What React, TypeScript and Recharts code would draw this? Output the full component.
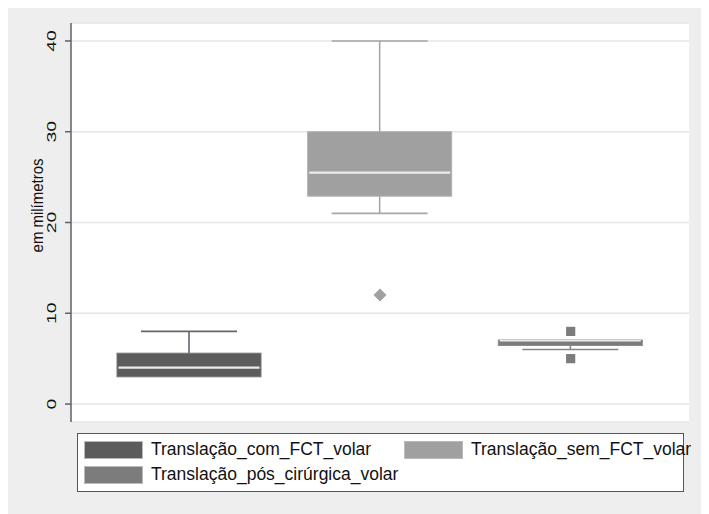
import React from 'react';
import { ComposedChart, Bar, Scatter, XAxis, YAxis, CartesianGrid } from 'recharts';

const categories = ['Translação_com_FCT_volar', 'Translação_sem_FCT_volar', 'Translação_pós_cirúrgica_volar'];
const minValues = [3, 21, 6];
const q1Values = [3, 22.9, 6.45];
const medianValues = [4, 25.5, 6.98];
const q3Values = [5.6, 30, 7.05];
const maxValues = [8, 40, 7.05];
const outlierA: (number | null)[] = [null, 12, 8];
const outlierB: (number | null)[] = [null, null, 5];
const yTicks = [0, 10, 20, 30, 40];
const yLabel = 'em milímetros';

const boxFill = ['#5c5c5c', '#a0a0a0', '#7c7c7c'];
const boxStroke = ['#74747c', '#b0b0b4', '#8a8a90'];
const whiskerStroke = ['#65656e', '#a6a6ab', '#85858c'];
const markerKind = ['circle', 'diamond', 'square'];
const medianWidth = [2.2, 2.2, 1.4];

const data = categories.map((name, i) => ({
  name,
  idx: i,
  lower: [minValues[i], q1Values[i]],
  box: [q1Values[i], q3Values[i]],
  med: [q1Values[i], medianValues[i]],
  upper: [q3Values[i], maxValues[i]],
  outA: outlierA[i],
  outB: outlierB[i],
}));

const FONT = '"Liberation Sans", Arial, Helvetica, sans-serif';

const UpperWhisker = (p: any) => {
  const { x, y, width, height, payload } = p;
  if (!(height > 0.5)) return <g />;
  const cx = x + width / 2;
  const c = whiskerStroke[payload.idx];
  return (
    <g>
      <line x1={cx} x2={cx} y1={y} y2={y + height} stroke={c} strokeWidth={1.6} />
      <line x1={x} x2={x + width} y1={y} y2={y} stroke={c} strokeWidth={1.6} />
    </g>
  );
};

const LowerWhisker = (p: any) => {
  const { x, y, width, height, payload } = p;
  if (!(height > 0.5)) return <g />;
  const cx = x + width / 2;
  const c = whiskerStroke[payload.idx];
  return (
    <g>
      <line x1={cx} x2={cx} y1={y} y2={y + height} stroke={c} strokeWidth={1.6} />
      <line x1={x} x2={x + width} y1={y + height} y2={y + height} stroke={c} strokeWidth={1.6} />
    </g>
  );
};

const BoxShape = (p: any) => {
  const { x, y, width, height, payload } = p;
  return (
    <rect x={x} y={y} width={width} height={Math.max(height, 1)} fill={boxFill[payload.idx]} stroke={boxStroke[payload.idx]} strokeWidth={1} />
  );
};

const MedianShape = (p: any) => {
  const { x, y, width, payload } = p;
  return <line x1={x + 1.5} x2={x + width - 1.5} y1={y} y2={y} stroke="#ececec" strokeWidth={medianWidth[payload.idx]} />;
};

const Outlier = (p: any) => {
  const { cx, cy, payload } = p;
  if (cx == null || cy == null || isNaN(cx) || isNaN(cy)) return <g />;
  const kind = markerKind[payload.idx];
  const fill = boxFill[payload.idx];
  if (kind === 'diamond') {
    const r = 6.5;
    return <polygon points={`${cx},${cy - r} ${cx + r},${cy} ${cx},${cy + r} ${cx - r},${cy}`} fill={fill} />;
  }
  if (kind === 'square') {
    const s = 4.6;
    return <rect x={cx - s} y={cy - s} width={2 * s} height={2 * s} fill={fill} />;
  }
  return <circle cx={cx} cy={cy} r={5} fill={fill} />;
};

const YTick = (p: any) => {
  const { x, y, payload } = p;
  return (
    <text
      transform={`translate(${x - 7}, ${y}) rotate(-90) scale(1.5, 1)`}
      textAnchor="middle"
      fontSize={13}
      fontFamily={FONT}
      fill="#111"
    >
      {payload.value}
    </text>
  );
};

const YLabel = (p: any) => {
  const vb = p.viewBox || { x: 0, y: 15, width: 63, height: 399 };
  const lx = vb.x + 35;
  const ly = vb.y + vb.height / 2 - 17;
  return (
    <text transform={`translate(${lx}, ${ly}) rotate(-90) scale(0.88, 1)`} textAnchor="middle" fontSize={17} fontFamily={FONT} fill="#111">
      {yLabel}
    </text>
  );
};

const axisPad = { left: 23, right: 23 };

const legendItems = [
  { label: categories[0], color: boxFill[0], left: 6, top: 6 },
  { label: categories[1], color: boxFill[1], left: 326, top: 6 },
  { label: categories[2], color: boxFill[2], left: 6, top: 31 },
];

export default function App() {
  return (
    <div style={{ position: 'relative', width: 701, height: 506, background: '#eeeeee', fontFamily: FONT }}>
      <ComposedChart
        width={701}
        height={506}
        data={data}
        margin={{ top: 15, right: 20, bottom: 92, left: 0 }}
      >
        <CartesianGrid vertical={false} stroke="#e6e6e6" strokeWidth={1.5} fill="#ffffff" />
        <XAxis xAxisId="a" dataKey="name" type="category" padding={axisPad} height={0} tick={false} tickLine={false} axisLine={{ stroke: '#5f5f6a', strokeWidth: 1.5 }} />
        <XAxis xAxisId="b" dataKey="name" type="category" padding={axisPad} height={0} hide />
        <XAxis xAxisId="c" dataKey="name" type="category" padding={axisPad} height={0} hide />
        <XAxis xAxisId="d" dataKey="name" type="category" padding={axisPad} height={0} hide />
        <XAxis xAxisId="e" dataKey="name" type="category" padding={axisPad} height={0} hide />
        <YAxis
          width={63}
          domain={[-1.98, 41.98]}
          ticks={yTicks}
          type="number"
          allowDataOverflow
          tickSize={6}
          tickMargin={2}
          tickLine={{ stroke: '#5f5f6a', strokeWidth: 1.5 }}
          axisLine={{ stroke: '#5f5f6a', strokeWidth: 1.5 }}
          tick={<YTick />}
          label={<YLabel />}
        />
        <Bar xAxisId="b" dataKey="upper" barSize={96} shape={<UpperWhisker />} isAnimationActive={false} />
        <Bar xAxisId="c" dataKey="lower" barSize={96} shape={<LowerWhisker />} isAnimationActive={false} />
        <Bar xAxisId="d" dataKey="box" barSize={144} shape={<BoxShape />} isAnimationActive={false} />
        <Bar xAxisId="e" dataKey="med" barSize={144} shape={<MedianShape />} isAnimationActive={false} />
        <Scatter xAxisId="a" dataKey="outA" shape={<Outlier />} isAnimationActive={false} />
        <Scatter xAxisId="a" dataKey="outB" shape={<Outlier />} isAnimationActive={false} />
      </ComposedChart>
      <div
        style={{
          position: 'absolute',
          left: 69,
          top: 425,
          width: 605,
          height: 57,
          background: '#ffffff',
          border: '1px solid #55555c',
        }}
      >
        {legendItems.map((it) => (
          <div key={it.label} style={{ position: 'absolute', left: it.left, top: it.top, height: 19, display: 'flex', alignItems: 'center', whiteSpace: 'nowrap' }}>
            <div style={{ width: 59, height: 18, background: it.color, border: '0.5px solid #bbb', boxSizing: 'border-box' }} />
            <span style={{ marginLeft: 8, fontSize: 17.5, color: '#111', lineHeight: '19px' }}>{it.label}</span>
          </div>
        ))}
      </div>
    </div>
  );
}
